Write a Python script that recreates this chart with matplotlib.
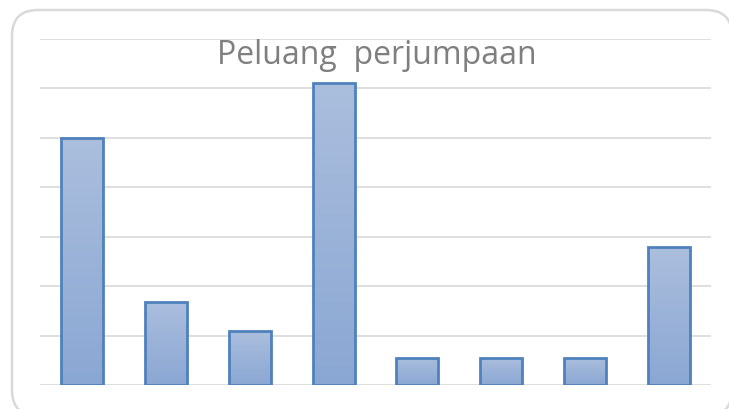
import numpy as np
import matplotlib
matplotlib.use("Agg")
import matplotlib.pyplot as plt
from matplotlib.patches import FancyBboxPatch

# data (gridline units)
categories = ["1", "2", "3", "4", "5", "6", "7", "8"]
values = [5.0, 1.68, 1.09, 6.11, 0.55, 0.55, 0.55, 2.79]
title = "Peluang  perjumpaan"

W, H = 729, 409
fig = plt.figure(figsize=(W / 100, H / 100), dpi=100)
fig.patch.set_facecolor("white")

# overlay in pixel units for the rounded chart frame
bg = fig.add_axes([0, 0, 1, 1], zorder=-1)
bg.set_xlim(0, W)
bg.set_ylim(H, 0)
bg.axis("off")
bg.add_patch(FancyBboxPatch((12, 10), 720, 406,
                            boxstyle="round,pad=0,rounding_size=26",
                            facecolor="white", edgecolor="#D9D9D9",
                            linewidth=1.8, clip_on=False))

ax = fig.add_axes([40 / W, 24 / H, 671 / W, 346 / H])
ax.patch.set_alpha(0)
for s in ax.spines.values():
    s.set_visible(False)
ax.set_xticks([])
ax.set_yticks([])
for g in range(0, 8):
    ax.axhline(g, color="#D9D9D9", linewidth=1.2, zorder=0)

# gradient bars: lighter at top, darker at bottom
grad = np.linspace(0, 1, 256).reshape(-1, 1)
cmap = matplotlib.colors.LinearSegmentedColormap.from_list(
    "bar", ["#8AA7D3", "#ABBEDD"])
bars = ax.bar(range(len(values)), values, width=0.5, color="none",
              edgecolor="#4F81BD", linewidth=2, zorder=3)
for b in bars:
    x0, y0 = b.get_x(), b.get_y()
    w, h = b.get_width(), b.get_height()
    im = ax.imshow(grad, extent=[x0, x0 + w, y0, y0 + h], origin="lower",
                   aspect="auto", cmap=cmap, zorder=2)
    im.set_clip_path(b)
ax.set_xlim(-0.5, len(categories) - 0.5)
ax.set_ylim(0, 7)

fig.text(377 / W, 1 - 55 / H, title, ha="center", va="center",
         fontsize=23, color="#7F7F7F", family=["Open Sans", "DejaVu Sans"])

fig.savefig("out.png", dpi=100, facecolor="white")
